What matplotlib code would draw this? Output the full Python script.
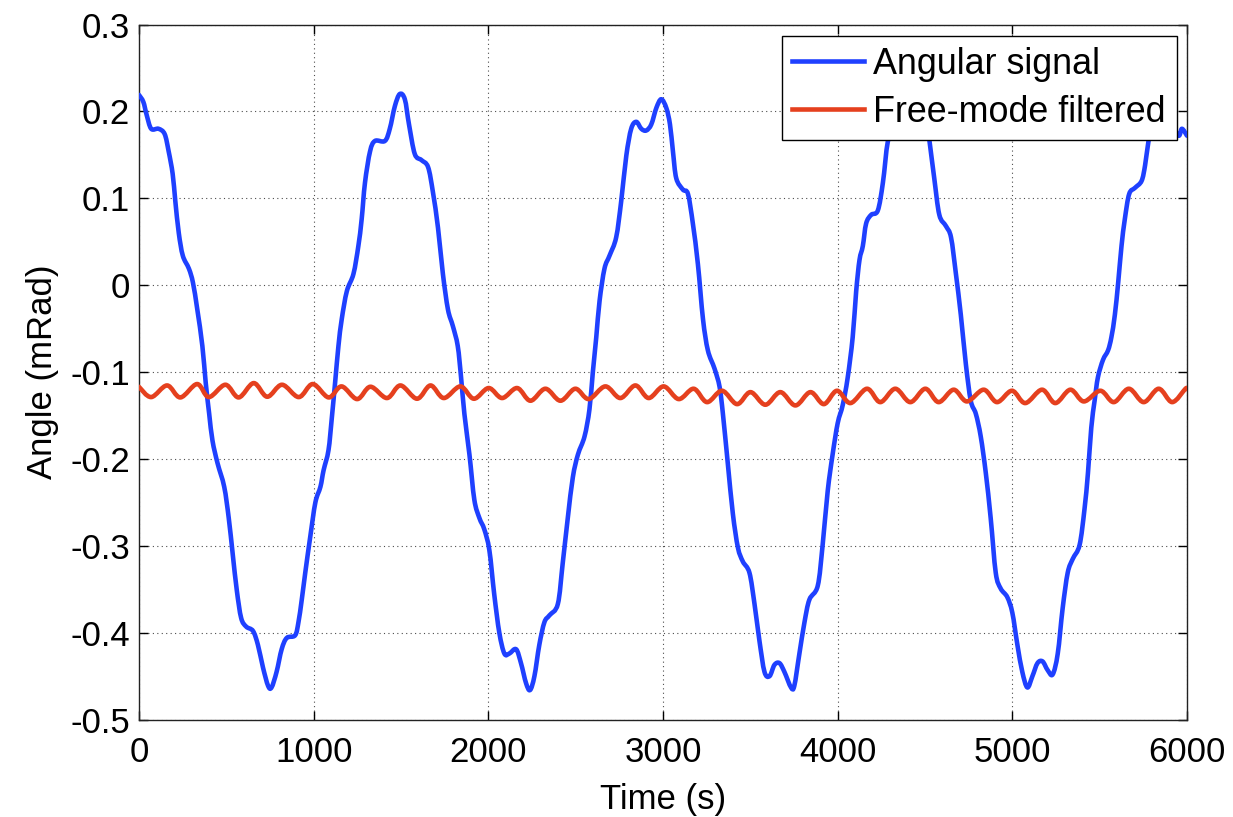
import matplotlib
matplotlib.use('Agg')
import matplotlib.pyplot as plt
from matplotlib.path import Path
from matplotlib.patches import PathPatch
from matplotlib.lines import Line2D

plt.rcParams['font.family'] = ['Liberation Sans', 'DejaVu Sans']
plt.rcParams['axes.unicode_minus'] = False

# ---- data ----
blue_t = [0, 25, 44, 70, 112, 147, 170, 193, 208, 228, 251, 286, 309, 334, 363, 382, 402, 421, 450, 488,
          514, 537, 560, 585, 614, 653, 681, 710, 739, 759, 788, 817, 846, 894, 913, 932, 952, 981, 1010, 1039,
          1057, 1085, 1104, 1123, 1142, 1161, 1190, 1228, 1256, 1275, 1294, 1323, 1351, 1408, 1436, 1465, 1493, 1522, 1546, 1579,
          1617, 1655, 1683, 1712, 1740, 1769, 1797, 1825, 1844, 1863, 1892, 1920, 1949, 1977, 2006, 2034, 2063, 2092, 2120, 2159,
          2187, 2216, 2239, 2264, 2292, 2321, 2350, 2398, 2426, 2455, 2484, 2513, 2551, 2579, 2598, 2618, 2637, 2665, 2694, 2732,
          2761, 2790, 2818, 2847, 2876, 2904, 2933, 2962, 2990, 3019, 3040, 3057, 3076, 3114, 3143, 3171, 3200, 3229, 3257, 3295,
          3324, 3343, 3371, 3400, 3429, 3457, 3495, 3524, 3552, 3581, 3610, 3638, 3667, 3695, 3733, 3752, 3781, 3810, 3838, 3886,
          3914, 3943, 3971, 4000, 4029, 4057, 4086, 4106, 4125, 4144, 4163, 4192, 4230, 4259, 4287, 4320, 4370, 4420, 4460, 4500,
          4525, 4553, 4582, 4620, 4649, 4677, 4705, 4734, 4762, 4791, 4819, 4848, 4876, 4905, 4933, 4971, 5000, 5029, 5057, 5086,
          5115, 5144, 5173, 5202, 5231, 5260, 5288, 5317, 5346, 5385, 5413, 5433, 5452, 5471, 5490, 5519, 5548, 5567, 5587, 5606,
          5625, 5644, 5669, 5702, 5740, 5760, 5779, 5798, 5850, 5910, 5952, 5971, 6000]
blue_v = [0.219, 0.211, 0.196, 0.180, 0.180, 0.174, 0.154, 0.128, 0.097, 0.060, 0.034, 0.019, 0.003, -0.028, -0.070, -0.112, -0.148, -0.179, -0.205, -0.232,
          -0.268, -0.310, -0.351, -0.383, -0.393, -0.398, -0.414, -0.440, -0.461, -0.463, -0.445, -0.419, -0.406, -0.403, -0.388, -0.362, -0.331, -0.289, -0.250, -0.232,
          -0.213, -0.190, -0.153, -0.112, -0.070, -0.039, -0.007, 0.013, 0.045, 0.076, 0.118, 0.154, 0.166, 0.166, 0.180, 0.206, 0.220, 0.214, 0.185, 0.151,
          0.144, 0.136, 0.107, 0.066, 0.013, -0.028, -0.047, -0.070, -0.106, -0.148, -0.195, -0.247, -0.268, -0.281, -0.305, -0.356, -0.400, -0.424, -0.424, -0.419,
          -0.435, -0.458, -0.466, -0.450, -0.414, -0.388, -0.380, -0.367, -0.320, -0.268, -0.221, -0.195, -0.174, -0.143, -0.101, -0.060, -0.018, 0.019, 0.034, 0.055,
          0.097, 0.149, 0.180, 0.188, 0.180, 0.178, 0.185, 0.204, 0.214, 0.204, 0.185, 0.154, 0.123, 0.110, 0.105, 0.071, 0.024, -0.039, -0.075, -0.096,
          -0.117, -0.148, -0.205, -0.263, -0.302, -0.318, -0.331, -0.367, -0.409, -0.445, -0.450, -0.437, -0.435, -0.445, -0.463, -0.461, -0.424, -0.388, -0.362, -0.346,
          -0.299, -0.237, -0.195, -0.159, -0.138, -0.107, -0.060, -0.007, 0.029, 0.045, 0.071, 0.081, 0.086, 0.118, 0.165, 0.180, 0.185, 0.205, 0.222, 0.205,
          0.167, 0.123, 0.081, 0.068, 0.055, 0.013, -0.034, -0.091, -0.133, -0.148, -0.174, -0.216, -0.268, -0.331, -0.349, -0.359, -0.377, -0.414, -0.445, -0.463,
          -0.450, -0.435, -0.433, -0.443, -0.448, -0.424, -0.372, -0.331, -0.315, -0.299, -0.258, -0.216, -0.164, -0.133, -0.106, -0.086, -0.075, -0.060, -0.034, 0.003,
          0.045, 0.076, 0.105, 0.112, 0.120, 0.138, 0.165, 0.180, 0.195, 0.185, 0.172, 0.180, 0.172]

red_t = [0, 70, 161, 237, 333, 400, 495, 571, 657, 734, 819, 915, 995, 1086, 1160, 1249, 1325, 1420, 1497, 1592,
         1669, 1745, 1840, 1917, 2002, 2079, 2165, 2241, 2327, 2413, 2498, 2575, 2670, 2756, 2842, 2918, 3004, 3090, 3176, 3252,
         3338, 3424, 3501, 3586, 3672, 3758, 3844, 3921, 3996, 4073, 4168, 4244, 4330, 4416, 4502, 4578, 4664, 4740, 4836, 4912,
         4998, 5074, 5170, 5246, 5332, 5409, 5504, 5581, 5667, 5752, 5838, 5915, 5991, 6000]
red_v = [-0.1170, -0.1288, -0.1154, -0.1292, -0.1138, -0.1288, -0.1146, -0.1292, -0.1127, -0.1284, -0.1146, -0.1288, -0.1138, -0.1292, -0.1165, -0.1311, -0.1169, -0.1299, -0.1154, -0.1307,
         -0.1154, -0.1299, -0.1165, -0.1307, -0.1184, -0.1299, -0.1184, -0.1330, -0.1192, -0.1330, -0.1192, -0.1311, -0.1165, -0.1299, -0.1154, -0.1299, -0.1165, -0.1311, -0.1192, -0.1346,
         -0.1215, -0.1369, -0.1231, -0.1376, -0.1231, -0.1384, -0.1231, -0.1369, -0.1215, -0.1357, -0.1192, -0.1346, -0.1192, -0.1346, -0.1192, -0.1346, -0.1203, -0.1338, -0.1203, -0.1346,
         -0.1215, -0.1357, -0.1203, -0.1357, -0.1203, -0.1338, -0.1215, -0.1346, -0.1192, -0.1346, -0.1192, -0.1346, -0.1192, -0.1195]

series_labels = ['Angular signal', 'Free-mode filtered']
series_colors = ['#1f40ff', '#e5401e']
x_ticks = [0, 1000, 2000, 3000, 4000, 5000, 6000]
x_tick_labels = ['0', '1000', '2000', '3000', '4000', '5000', '6000']
y_ticks = [0.3, 0.2, 0.1, 0.0, -0.1, -0.2, -0.3, -0.4, -0.5]
y_tick_labels = ['0.3', '0.2', '0.1', '0', '-0.1', '-0.2', '-0.3', '-0.4', '-0.5']
x_label = 'Time (s)'
y_label = 'Angle (mRad)'


def smooth_path(xs, ys):
    """Catmull-Rom curve through the given points, expressed as cubic Bezier segments."""
    n = len(xs)
    verts = [(xs[0], ys[0])]
    codes = [Path.MOVETO]
    for i in range(n - 1):
        i0 = max(i - 1, 0)
        i3 = min(i + 2, n - 1)
        c1 = (xs[i] + (xs[i + 1] - xs[i0]) / 6.0, ys[i] + (ys[i + 1] - ys[i0]) / 6.0)
        c2 = (xs[i + 1] - (xs[i3] - xs[i]) / 6.0, ys[i + 1] - (ys[i3] - ys[i]) / 6.0)
        verts += [c1, c2, (xs[i + 1], ys[i + 1])]
        codes += [Path.CURVE4, Path.CURVE4, Path.CURVE4]
    return Path(verts, codes)


# ---- figure ----
FS = 25
LW = 3.3
fig = plt.figure(figsize=(12.33, 8.17), dpi=100)
ax = fig.add_axes([0.1127, 0.1192, 0.8500, 0.8508])

for (xs, ys), col, z in zip([(blue_t, blue_v), (red_t, red_v)], series_colors, [3, 4]):
    patch = PathPatch(smooth_path(xs, ys), facecolor='none', edgecolor=col, lw=LW,
                      joinstyle='round', capstyle='round', transform=ax.transData, zorder=z)
    ax.add_patch(patch)

ax.set_xlim(0, 6000)
ax.set_ylim(-0.5, 0.3)
ax.set_xticks(x_ticks)
ax.set_xticklabels(x_tick_labels)
ax.set_yticks(y_ticks)
ax.set_yticklabels(y_tick_labels)

ax.tick_params(axis='both', which='both', direction='in', length=6.5, width=1.0,
               top=True, right=True, labelsize=FS, colors='k')
ax.tick_params(axis='x', pad=12)
ax.tick_params(axis='y', pad=6.5)

for s in ax.spines.values():
    s.set_linewidth(1.0)
    s.set_color('#222222')

ax.grid(True, color='k', linestyle=(0, (1, 3)), linewidth=0.8, alpha=0.7)
ax.set_axisbelow(True)

ax.set_xlabel(x_label, fontsize=FS, labelpad=10)
ax.set_ylabel(y_label, fontsize=FS, labelpad=8)

handles = [Line2D([], [], color=c, lw=LW) for c in series_colors]
leg = ax.legend(handles, series_labels, loc='upper right',
                bbox_to_anchor=(1176.7 / 1233, 1 - 36 / 817),
                bbox_transform=fig.transFigure, borderaxespad=0, fontsize=25.8,
                handlelength=2.0, handletextpad=0.26, borderpad=0.3,
                labelspacing=0.36, fancybox=False, framealpha=1.0, edgecolor='k')
leg.get_frame().set_linewidth(1.0)
leg.set_zorder(10)

fig.savefig('out.png', dpi=100)
